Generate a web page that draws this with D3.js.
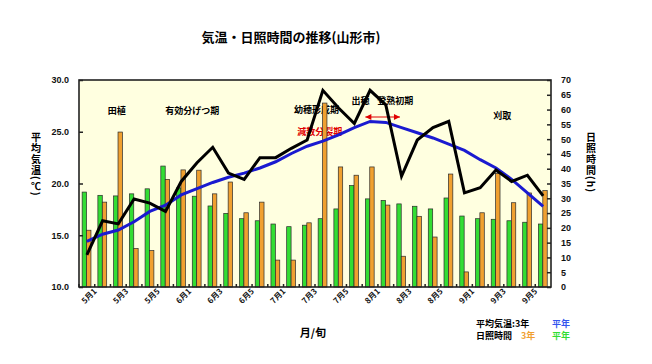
<!DOCTYPE html>
<html>
<head>
<meta charset="utf-8">
<script src="https://cdn.jsdelivr.net/npm/d3@7"></script>
<style>
  body { margin: 0; background: #fff; }
  svg text { font-family: "Noto Sans CJK JP", "DejaVu Sans", sans-serif; }
</style>
</head>
<body>
<div id="chart"></div>
<script>

// 半旬ごとの区分 (5月1 ～ 9月6)
var periods = ['5月1','5月2','5月3','5月4','5月5','5月6',
               '6月1','6月2','6月3','6月4','6月5','6月6',
               '7月1','7月2','7月3','7月4','7月5','7月6',
               '8月1','8月2','8月3','8月4','8月5','8月6',
               '9月1','9月2','9月3','9月4','9月5','9月6']

var tick_labels = ['5月1','5月3','5月5','6月1','6月3','6月5','7月1','7月3','7月5',
                   '8月1','8月3','8月5','9月1','9月3','9月5']

// 日照時間 (h)
var sun_3nen = [19.2, 28.7, 52.4, 13.0, 12.3, 36.4, 39.6, 39.5, 31.5, 35.5,
                25.1, 28.7, 9.1, 9.1, 21.7, 62.2, 40.6, 37.8, 40.6, 27.7,
                10.4, 23.9, 16.9, 38.2, 5.1, 25.1, 38.4, 28.5, 31.8, 32.6]
var sun_heinen = [32.1, 31.0, 30.8, 31.5, 33.2, 40.9, 33.5, 30.7, 27.4, 24.9,
                  23.1, 22.4, 21.3, 20.4, 20.9, 23.1, 26.4, 34.3, 29.8, 29.3,
                  28.1, 27.3, 26.4, 30.1, 24.0, 23.1, 22.9, 22.4, 21.9, 21.3]

// 平均気温 (℃)
var temp_3nen = [13.1, 16.4, 16.1, 18.5, 18.1, 17.3, 20.2, 22.0, 23.5, 21.0,
                 20.4, 22.5, 22.5, 23.4, 24.2, 29.0, 27.3, 25.8, 29.0, 27.6,
                 20.7, 24.2, 25.4, 26.0, 19.1, 19.6, 21.3, 20.2, 20.8, 18.8]
var temp_heinen = [14.4, 15.1, 15.5, 16.3, 17.3, 17.9, 18.9, 19.5, 20.1, 20.6,
                   21.0, 21.5, 22.1, 22.9, 23.6, 24.1, 24.7, 25.4, 26.0, 25.9,
                   25.4, 24.9, 24.4, 23.8, 23.2, 22.3, 21.5, 20.4, 19.1, 17.8]

var temp_ticks = [10, 15, 20, 25, 30]
var sun_ticks = [0, 5, 10, 15, 20, 25, 30, 35, 40, 45, 50, 55, 60, 65, 70]

// 生育ステージ
var stages = [
  ['田植', '5月3', 0.4, 111, '#000'],
  ['有効分げつ期', '6月2', 0.2, 111, '#000'],
  ['幼穂形成期', '7月4', 0.1, 110, '#000'],
  ['減数分裂期', '7月4', 0.3, 132, '#e00000'],
  ['出穂', '7月6', 0.9, 101, '#000'],
  ['登熟初期', '8月3', 0.1, 101, '#000'],
  ['刈取', '9月3', 0.9, 116, '#000']
]

var width = 652
var height = 364
var p_left = 79, p_right = 551, p_top = 80, p_bottom = 287

var svg = d3.select('#chart').append('svg')
  .attr('width', width)
  .attr('height', height)

var x = d3.scaleBand().domain(periods).range([p_left, p_right]).padding(0)
var bw = x.bandwidth()
var y_temp = d3.scaleLinear().domain([10, 30]).range([p_bottom, p_top])
var y_sun = d3.scaleLinear().domain([0, 70]).range([p_bottom, p_top])

// title
svg.append('text')
  .attr('x', 291).attr('y', 42)
  .attr('text-anchor', 'middle')
  .style('font-size', '13px').style('font-weight', 'bold')
  .text('気温・日照時間の推移(山形市)')

// plot background
svg.append('rect')
  .attr('x', p_left).attr('y', p_top)
  .attr('width', p_right - p_left).attr('height', p_bottom - p_top)
  .attr('fill', '#ffffe0')

// stage labels (behind the marks)
stages.forEach(function(s){
  svg.append('text')
    .attr('x', x(s[1]) + bw * s[2])
    .attr('y', s[3] + 3)
    .attr('text-anchor', 'middle')
    .attr('fill', s[4])
    .style('font-size', '9px')
    .style('font-weight', 'bold')
    .text(s[0])
})

// red double arrow (登熟初期)
var ax1 = x('8月1') + bw * 0.2, ax2 = x('8月3') + bw * 0.4, ay = 117
svg.append('line')
  .attr('x1', ax1).attr('x2', ax2).attr('y1', ay).attr('y2', ay)
  .attr('stroke', '#e00000').attr('stroke-width', 1.2)
svg.append('path')
  .attr('d', 'M' + ax1 + ',' + ay + 'l6,-3v6z M' + ax2 + ',' + ay + 'l-6,-3v6z')
  .attr('fill', '#e00000')

// bars
svg.selectAll('rect.heinen').data(sun_heinen).enter().append('rect')
  .attr('class', 'heinen')
  .attr('x', function(d, i){ return x(periods[i]) + bw * 0.2 })
  .attr('y', function(d){ return y_sun(d) })
  .attr('width', bw * 0.28)
  .attr('height', function(d){ return p_bottom - y_sun(d) })
  .attr('fill', '#33dd33')
  .attr('stroke', '#2a2a2a').attr('stroke-width', 0.7)

svg.selectAll('rect.sannen').data(sun_3nen).enter().append('rect')
  .attr('class', 'sannen')
  .attr('x', function(d, i){ return x(periods[i]) + bw * 0.48 })
  .attr('y', function(d){ return y_sun(d) })
  .attr('width', bw * 0.28)
  .attr('height', function(d){ return p_bottom - y_sun(d) })
  .attr('fill', '#f0a030')
  .attr('stroke', '#2a2a2a').attr('stroke-width', 0.7)

// lines
var line_temp = d3.line()
  .x(function(d, i){ return x(periods[i]) + bw / 2 })
  .y(function(d){ return y_temp(d) })

svg.append('path').datum(temp_heinen)
  .attr('d', line_temp)
  .attr('fill', 'none').attr('stroke', '#1a1ad0').attr('stroke-width', 3)

svg.append('path').datum(temp_3nen)
  .attr('d', line_temp)
  .attr('fill', 'none').attr('stroke', '#000').attr('stroke-width', 3)
  .attr('stroke-linejoin', 'miter')

// frame
svg.append('rect')
  .attr('x', p_left).attr('y', p_top)
  .attr('width', p_right - p_left).attr('height', p_bottom - p_top)
  .attr('fill', 'none').attr('stroke', '#222').attr('stroke-width', 1.6)

// axes
var ax_left = svg.append('g').attr('transform', 'translate(' + p_left + ',0)')
  .call(d3.axisLeft(y_temp).tickValues(temp_ticks).tickFormat(d3.format('.1f')).tickSize(-4).tickPadding(10))
var ax_right = svg.append('g').attr('transform', 'translate(' + p_right + ',0)')
  .call(d3.axisRight(y_sun).tickValues(sun_ticks).tickSize(-4).tickPadding(10))
var ax_bottom = svg.append('g').attr('transform', 'translate(0,' + p_bottom + ')')
  .call(d3.axisBottom(x).tickValues(tick_labels).tickSize(0).tickPadding(6))

;[ax_left, ax_right, ax_bottom].forEach(function(g){
  g.select('.domain').remove()
  g.selectAll('line').attr('stroke', '#222').attr('stroke-width', 1.5)
  g.selectAll('text')
    .style('font-size', '9px').style('font-weight', 'bold')
    .style('font-family', '"Liberation Sans", Arial, sans-serif')
    .attr('fill', '#111')
})

ax_bottom.selectAll('text')
  .style('font-family', '"Noto Sans CJK JP", sans-serif')
  .style('font-size', '8px')
  .attr('text-anchor', 'end')
  .attr('dx', '0.5em').attr('dy', '0.6em')
  .attr('transform', 'rotate(-45)')

// small ticks on the category borders
svg.selectAll('line.cat').data(periods).enter().append('line')
  .attr('class', 'cat')
  .attr('x1', function(d){ return x(d) }).attr('x2', function(d){ return x(d) })
  .attr('y1', p_bottom).attr('y2', p_bottom - 3)
  .attr('stroke', '#222').attr('stroke-width', 1.5)

// axis titles
svg.append('text')
  .attr('x', 36).attr('y', 132)
  .style('writing-mode', 'vertical-rl')
  .style('font-size', '10px').style('font-weight', 'bold')
  .style('letter-spacing', '1px')
  .text('平均気温(℃)')

svg.append('text')
  .attr('x', 591).attr('y', 132)
  .style('writing-mode', 'vertical-rl')
  .style('font-size', '10px').style('font-weight', 'bold')
  .style('letter-spacing', '1px')
  .text('日照時間(h)')

svg.append('text')
  .attr('x', 313).attr('y', 337)
  .attr('text-anchor', 'middle')
  .style('font-size', '11px').style('font-weight', 'bold')
  .text('月/旬')

// legend
var legend = svg.append('g').style('font-size', '9px').style('font-weight', 'bold')
legend.append('text').attr('x', 476).attr('y', 327).text('平均気温:3年')
legend.append('text').attr('x', 552).attr('y', 327).attr('fill', '#3355ee').text('平年')
legend.append('text').attr('x', 476).attr('y', 339).text('日照時間')
legend.append('text').attr('x', 521).attr('y', 339).attr('fill', '#f0a030').text('3年')
legend.append('text').attr('x', 552).attr('y', 339).attr('fill', '#33dd33').text('平年')

</script>
</body>
</html>
